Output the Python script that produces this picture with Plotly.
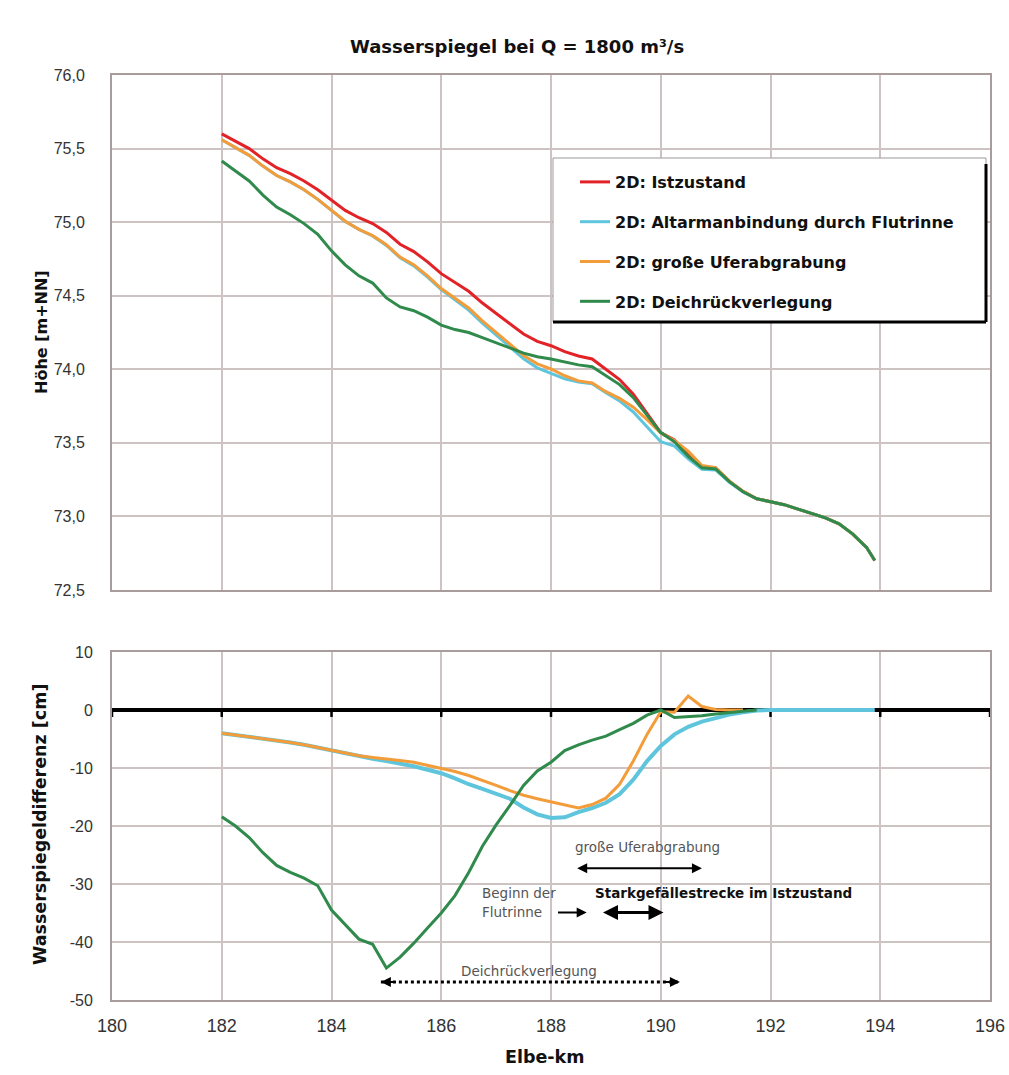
import plotly.graph_objects as go

# ---------------- data ----------------
KM = [182.0, 182.25, 182.5, 182.75, 183.0, 183.25, 183.5, 183.75,
      184.0, 184.25, 184.5, 184.75, 185.0, 185.25, 185.5, 185.75,
      186.0, 186.25, 186.5, 186.75, 187.0, 187.25, 187.5, 187.75,
      188.0, 188.25, 188.5, 188.75, 189.0, 189.25, 189.5, 189.75,
      190.0, 190.25, 190.5, 190.75, 191.0, 191.25, 191.5, 191.75,
      192.0, 192.25, 192.5, 192.75, 193.0, 193.25, 193.5, 193.75, 193.9]

# water level [m+NN]
IST = [75.60, 75.55, 75.50, 75.43, 75.37, 75.33, 75.28, 75.22,
       75.15, 75.08, 75.03, 74.99, 74.93, 74.85, 74.80, 74.73,
       74.65, 74.59, 74.53, 74.45, 74.38, 74.31, 74.24, 74.19,
       74.16, 74.12, 74.09, 74.07, 74.00, 73.93, 73.83, 73.70,
       73.57, 73.52, 73.42, 73.34, 73.33, 73.24, 73.17, 73.12,
       73.10, 73.08, 73.05, 73.02, 72.99, 72.95, 72.88, 72.79, 72.70]
ALT = [75.560, 75.507, 75.454, 75.381, 75.317, 75.274, 75.220, 75.155,
       75.080, 75.005, 74.950, 74.906, 74.842, 74.758, 74.703, 74.627,
       74.541, 74.472, 74.402, 74.314, 74.235, 74.157, 74.072, 74.010,
       73.974, 73.935, 73.914, 73.901, 73.840, 73.785, 73.710, 73.612,
       73.508, 73.478, 73.391, 73.320, 73.316, 73.232, 73.166, 73.119,
       73.10, 73.08, 73.05, 73.02, 72.99, 72.95, 72.88, 72.79, 72.70]
UFER = [75.560, 75.507, 75.454, 75.381, 75.317, 75.274, 75.220, 75.155,
        75.080, 75.006, 74.951, 74.908, 74.846, 74.763, 74.710, 74.635,
        74.549, 74.484, 74.417, 74.329, 74.250, 74.171, 74.093, 74.037,
        74.002, 73.956, 73.921, 73.907, 73.848, 73.802, 73.742, 73.658,
        73.567, 73.516, 73.444, 73.346, 73.331, 73.24, 73.17, 73.12,
        73.10, 73.08, 73.05, 73.02, 72.99, 72.95, 72.88, 72.79, 72.70]
DEICH = [75.416, 75.350, 75.280, 75.184, 75.102, 75.050, 74.990, 74.917,
         74.805, 74.710, 74.635, 74.586, 74.485, 74.424, 74.398, 74.354,
         74.300, 74.270, 74.250, 74.215, 74.182, 74.145, 74.110, 74.085,
         74.070, 74.050, 74.030, 74.018, 73.955, 73.896, 73.807, 73.691,
         73.570, 73.507, 73.408, 73.330, 73.323, 73.236, 73.168, 73.12,
         73.10, 73.08, 73.05, 73.02, 72.99, 72.95, 72.88, 72.79, 72.70]

# water level difference to Istzustand [cm]
D_ALT = [-4.0, -4.3, -4.6, -4.9, -5.3, -5.6, -6.0, -6.5,
         -7.0, -7.5, -8.0, -8.4, -8.8, -9.2, -9.7, -10.3,
         -10.9, -11.8, -12.8, -13.6, -14.5, -15.3, -16.8, -18.0,
         -18.6, -18.5, -17.6, -16.9, -16.0, -14.5, -12.0, -8.8,
         -6.2, -4.2, -2.9, -2.0, -1.4, -0.8, -0.4, -0.1,
         0.0, 0.0, 0.0, 0.0, 0.0, 0.0, 0.0, 0.0, 0.0]
D_UFER = [-4.0, -4.3, -4.6, -4.9, -5.3, -5.6, -6.0, -6.5,
          -7.0, -7.4, -7.9, -8.2, -8.4, -8.7, -9.0, -9.5,
          -10.1, -10.6, -11.3, -12.1, -13.0, -13.9, -14.7, -15.3,
          -15.8, -16.4, -16.9, -16.3, -15.2, -12.8, -8.8, -4.2,
          -0.3, -0.4, 2.4, 0.6, 0.1, 0.0, 0.0, None,
          None, None, None, None, None, None, None, None, None]
D_DEICH = [-18.4, -20.0, -22.0, -24.6, -26.8, -28.0, -29.0, -30.3,
           -34.5, -37.0, -39.5, -40.4, -44.5, -42.6, -40.2, -37.6,
           -35.0, -32.0, -28.0, -23.5, -19.8, -16.5, -13.0, -10.5,
           -9.0, -7.0, -6.0, -5.2, -4.5, -3.4, -2.3, -0.9,
           0.0, -1.3, -1.2, -1.0, -0.7, -0.4, -0.2, 0.0,
           None, None, None, None, None, None, None, None, None]

SERIES_NAMES = ["2D: Istzustand", "2D: Altarmanbindung durch Flutrinne",
                "2D: große Uferabgrabung", "2D: Deichrückverlegung"]
COLORS = ["#E32227", "#5EC5DD", "#F39C3A", "#2F8A4C"]

TOP_TICKS = [72.5, 73.0, 73.5, 74.0, 74.5, 75.0, 75.5, 76.0]
TOP_TICKTEXT = ["72,5", "73,0", "73,5", "74,0", "74,5", "75,0", "75,5", "76,0"]
BOT_TICKS = [-50, -40, -30, -20, -10, 0, 10]
BOT_TICKTEXT = ["-50", "-40", "-30", "-20", "-10", "0", "10"]
X_TICKS = [180, 182, 184, 186, 188, 190, 192, 194, 196]
ZERO_TICKS = [180, 182, 184, 186, 188, 190, 192, 194, 196]

# ---------------- figure ----------------
FONT = "Liberation Sans, Arial, sans-serif"
WIDE = "DejaVu Sans, Verdana, sans-serif"
GRID = "#CDC3C3"
W, H = 1009, 1075
ML, MR, MT, MB = 112, 19, 75, 75
PW, PH = W - ML - MR, H - MT - MB


def px_y(py):
    return (H - MB - py) / PH


def px_x(pxx):
    return (pxx - ML) / PW


fig = go.Figure()

top_vals = [IST, ALT, UFER, DEICH]
for i, (name, vals) in enumerate(zip(SERIES_NAMES, top_vals)):
    fig.add_trace(go.Scatter(x=KM, y=vals, mode="lines", name=name,
                             line=dict(color=COLORS[i], width=3),
                             xaxis="x", yaxis="y", legendgroup=f"g{i}",
                             showlegend=True))

# tick marks hanging below the zero line
fig.add_trace(go.Scatter(x=ZERO_TICKS, y=[0] * len(ZERO_TICKS), mode="markers",
                         marker=dict(size=1, color="black"),
                         error_y=dict(type="data", symmetric=False,
                                      array=[0] * len(ZERO_TICKS),
                                      arrayminus=[1.2] * len(ZERO_TICKS),
                                      thickness=2.5, width=0, color="black"),
                         xaxis="x2", yaxis="y2", showlegend=False,
                         hoverinfo="skip", cliponaxis=False))
fig.add_trace(go.Scatter(x=KM, y=D_ALT, mode="lines", name=SERIES_NAMES[1],
                         line=dict(color=COLORS[1], width=4),
                         xaxis="x2", yaxis="y2", showlegend=False))
fig.add_trace(go.Scatter(x=KM, y=D_UFER, mode="lines", name=SERIES_NAMES[2],
                         line=dict(color=COLORS[2], width=3),
                         xaxis="x2", yaxis="y2", showlegend=False))
fig.add_trace(go.Scatter(x=KM, y=D_DEICH, mode="lines", name=SERIES_NAMES[3],
                         line=dict(color=COLORS[3], width=3),
                         xaxis="x2", yaxis="y2", showlegend=False))

top_dom = [px_y(590), 1.0]
bot_dom = [0.0, px_y(652)]

axis_common = dict(range=[180, 196], tickvals=X_TICKS, showgrid=True,
                   gridcolor=GRID, gridwidth=2, zeroline=False, automargin=False,
                   showline=True, linecolor="#A89C9C", linewidth=2, mirror=True)

fig.update_layout(
    width=W, height=H,
    margin=dict(l=ML, r=MR, t=MT, b=MB, autoexpand=False),
    paper_bgcolor="white", plot_bgcolor="white",
    font=dict(family=FONT, color="#222"),
    showlegend=True,
    xaxis=dict(domain=[0, 1], anchor="y", showticklabels=False, **axis_common),
    yaxis=dict(domain=top_dom, anchor="x", range=[72.5, 76.0],
               tickvals=TOP_TICKS, ticktext=TOP_TICKTEXT, automargin=False,
               showgrid=True, gridcolor=GRID, gridwidth=2, zeroline=False,
               showline=True, linecolor="#A89C9C", linewidth=2, mirror=True,
               ticklabelstandoff=22, tickfont=dict(size=16, color="#333")),
    xaxis2=dict(domain=[0, 1], anchor="y2",
                tickfont=dict(size=18, color="#333"), ticklabelstandoff=8,
                **axis_common),
    yaxis2=dict(domain=bot_dom, anchor="x2", range=[-50, 10],
                tickvals=BOT_TICKS, ticktext=BOT_TICKTEXT, automargin=False,
                showgrid=True, gridcolor=GRID, gridwidth=2,
                zeroline=True, zerolinecolor="black", zerolinewidth=4,
                showline=True, linecolor="#A89C9C", linewidth=2, mirror=True,
                ticklabelstandoff=14, tickfont=dict(size=16, color="#333")),
    legend=dict(x=px_x(575), y=px_y(165), xanchor="left", yanchor="top",
                bgcolor="rgba(0,0,0,0)", borderwidth=0,
                font=dict(family=WIDE, size=16, color="#111", weight="bold"),
                tracegroupgap=16, itemwidth=30),
)

# legend frame (white box, thin grey border, black shadow edges right/bottom)
LEG_BOX = dict(x0=px_x(553), x1=px_x(986), y0=px_y(322), y1=px_y(158))
fig.add_shape(type="rect", xref="paper", yref="paper", layer="above",
              fillcolor="white", line=dict(color="#9A9A9A", width=1), **LEG_BOX)
fig.add_shape(type="line", xref="paper", yref="paper", layer="above",
              x0=LEG_BOX["x1"], x1=LEG_BOX["x1"], y0=LEG_BOX["y0"], y1=px_y(164),
              line=dict(color="black", width=3))
fig.add_shape(type="line", xref="paper", yref="paper", layer="above",
              x0=LEG_BOX["x0"], x1=LEG_BOX["x1"], y0=LEG_BOX["y0"], y1=LEG_BOX["y0"],
              line=dict(color="black", width=3))

# titles
fig.add_annotation(text="<b>Wasserspiegel bei Q = 1800 m³/s</b>", xref="paper", yref="paper",
                   x=px_x(517), y=px_y(46), xanchor="center", yanchor="middle",
                   showarrow=False, font=dict(family=WIDE, size=18, color="#111"))
fig.add_annotation(text="<b>Höhe [m+NN]</b>", xref="paper", yref="paper",
                   x=px_x(41), y=px_y(332), xanchor="center", yanchor="middle",
                   showarrow=False, textangle=-90,
                   font=dict(family=WIDE, size=16, color="#111"))
fig.add_annotation(text="<b>Wasserspiegeldifferenz [cm]</b>", xref="paper", yref="paper",
                   x=px_x(40), y=px_y(825), xanchor="center", yanchor="middle",
                   showarrow=False, textangle=-90,
                   font=dict(family=WIDE, size=17.5, color="#111"))
fig.add_annotation(text="<b>Elbe-km</b>", xref="paper", yref="paper",
                   x=px_x(545), y=px_y(1057), xanchor="center", yanchor="middle",
                   showarrow=False, font=dict(family=WIDE, size=17.5, color="#111"))

# explanatory labels in the lower panel (km, cm)
LABELS = [
    ("große Uferabgrabung", 189.75, -23.6, "center", False),
    ("Beginn der", 186.7, -31.6, "left", False),
    ("Flutrinne", 186.7, -34.9, "left", False),
    ("Starkgefällestrecke im Istzustand", 188.77, -31.6, "left", True),
    ("Deichrückverlegung", 187.6, -45.0, "center", False),
]
for txt, xx, yy, anc, bold in LABELS:
    fig.add_annotation(text=(f"<b>{txt}</b>" if bold else txt), x=xx, y=yy,
                       xref="x2", yref="y2", xanchor=anc, yanchor="middle",
                       showarrow=False,
                       font=dict(family=WIDE, size=13.5,
                                 color="#111" if bold else "#555"))

# range arrows (start km, end km, level cm, both heads, width)
ARROWS = [
    (188.45, 190.75, -27.3, True, 2),
    (188.10, 188.65, -34.9, False, 2),
    (188.92, 190.05, -34.9, True, 3),
]
for a0, a1, lvl, both, wd in ARROWS:
    fig.add_annotation(x=a1, y=lvl, ax=a0, ay=lvl, xref="x2", yref="y2",
                       axref="x2", ayref="y2", text="", showarrow=True,
                       arrowhead=2, startarrowhead=2, arrowsize=1, startarrowsize=1,
                       arrowwidth=wd, arrowcolor="black",
                       arrowside="end+start" if both else "end")

# dotted Deichrückverlegung range
DEICH_RANGE = (184.9, 190.35, -46.9)
fig.add_shape(type="line", xref="x2", yref="y2",
              x0=DEICH_RANGE[0], x1=DEICH_RANGE[1], y0=DEICH_RANGE[2], y1=DEICH_RANGE[2],
              line=dict(color="black", width=3, dash="dot"))
fig.add_annotation(x=DEICH_RANGE[0], y=DEICH_RANGE[2], ax=DEICH_RANGE[0] + 0.3,
                   ay=DEICH_RANGE[2], xref="x2", yref="y2", axref="x2", ayref="y2",
                   text="", showarrow=True, arrowhead=2, arrowwidth=2, arrowcolor="black")
fig.add_annotation(x=DEICH_RANGE[1], y=DEICH_RANGE[2], ax=DEICH_RANGE[1] - 0.3,
                   ay=DEICH_RANGE[2], xref="x2", yref="y2", axref="x2", ayref="y2",
                   text="", showarrow=True, arrowhead=2, arrowwidth=2, arrowcolor="black")

fig.write_html("out.html", config={"displayModeBar": False},
               post_script="document.body.style.margin='0px';")
